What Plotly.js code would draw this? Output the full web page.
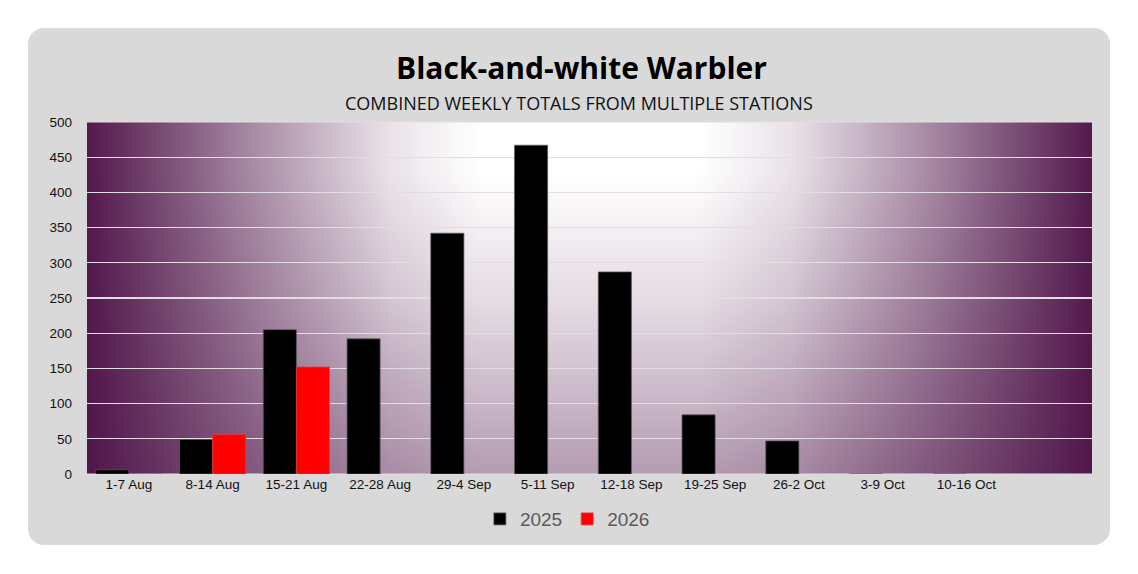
<!DOCTYPE html>
<html>
<head>
<meta charset="utf-8">
<script src="https://cdn.plot.ly/plotly-3.0.1.min.js"></script>
<style>
  html, body { margin: 0; padding: 0; background: #ffffff; }
  #card {
    position: absolute; left: 28px; top: 28px; width: 1082px; height: 517px;
    background: #d9d9d9; border-radius: 16px;
  }
  #chart { position: absolute; left: 0; top: 0; width: 1138px; height: 574px; }
</style>
</head>
<body>
<div id="card"></div>
<div id="chart"></div>
<script>
// weekly periods
const weeks = ["1-7 Aug", "8-14 Aug", "15-21 Aug", "22-28 Aug", "29-4 Sep", "5-11 Sep",
               "12-18 Sep", "19-25 Sep", "26-2 Oct", "3-9 Oct", "10-16 Oct"];
const totals2025 = [6, 49, 205, 192, 342, 467, 287, 84, 47, 0, 0];
const totals2026 = [0, 56, 152, null, null, null, null, null, null, null, null];

// piecewise-linear lookup used by the background shading
function ramp(pts, v) {
    if (v <= pts[0][0]) return pts[0][1];
    for (let i = 1; i < pts.length; i++) {
        if (v <= pts[i][0]) {
            let f = (v - pts[i - 1][0]) / (pts[i][0] - pts[i - 1][0]);
            return pts[i - 1][1] + f * (pts[i][1] - pts[i - 1][1]);
        }
    }
    return pts[pts.length - 1][1];
}

// purple glow behind the bars, white at top centre, dark at the sides
function plotBackground() {
    let w = 1005, h = 352;
    let c = document.createElement("canvas");
    c.width = w; c.height = h;
    let ctx = c.getContext("2d");
    let img = ctx.createImageData(w, h);
    let dark = [77, 18, 71];
    let side = [[0, 0], [110, 0], [200, 0.12], [340, 0.5], [430, 0.76], [503, 0.97]];
    let down = [[0, 0], [50, 0], [180, 0.15], [352, 0.42]];
    for (let y = 0; y < h; y++) {
        let ty = ramp(down, y);
        for (let x = 0; x < w; x++) {
            let tx = ramp(side, Math.abs(x - w / 2));
            let t = 1 - (1 - tx) * (1 - ty);
            let i = (y * w + x) * 4;
            img.data[i] = 255 + (dark[0] - 255) * t;
            img.data[i + 1] = 255 + (dark[1] - 255) * t;
            img.data[i + 2] = 255 + (dark[2] - 255) * t;
            img.data[i + 3] = 255;
        }
    }
    ctx.putImageData(img, 0, 0);
    return c.toDataURL("image/png");
}

var data = [
    {
        x: weeks,
        y: totals2025,
        name: "2025",
        type: "bar",
        marker: {color: "#000000", line: {color: "#595959", width: 0.75}}
    },
    {
        x: weeks,
        y: totals2026,
        name: "2026",
        type: "bar",
        marker: {color: "#ff0000", line: {color: "#e04040", width: 0.75}}
    }
];

var layout = {
    width: 1138,
    height: 574,
    margin: {l: 87, r: 46, t: 122, b: 100},
    paper_bgcolor: "rgba(0,0,0,0)",
    plot_bgcolor: "rgba(0,0,0,0)",
    font: {family: "Liberation Sans, Arial, sans-serif", color: "#111111"},
    barmode: "group",
    bargap: 0.21,
    bargroupgap: 0,
    title: {
        text: "<b>Black-and-white Warbler</b>",
        font: {family: "Open Sans, sans-serif", size: 30, color: "#000000"},
        x: 0.511, xanchor: "center",
        y: 1 - 68 / 574, yref: "container", yanchor: "middle"
    },
    annotations: [{
        text: "COMBINED WEEKLY TOTALS FROM MULTIPLE STATIONS",
        xref: "paper", yref: "paper", x: 0.49, y: 1.054,
        xanchor: "center", yanchor: "middle", showarrow: false,
        font: {family: "Open Sans, sans-serif", size: 18, color: "#111111"}
    }],
    xaxis: {
        type: "category",
        range: [-0.5, 11.5],
        showgrid: false,
        showline: false,
        zeroline: false,
        ticks: "",
        tickfont: {size: 13.5, color: "#111111"},
        fixedrange: true
    },
    yaxis: {
        range: [0, 500],
        dtick: 50,
        showgrid: true,
        gridcolor: "#e3dde3",
        gridwidth: 1.2,
        zeroline: false,
        showline: false,
        ticks: "",
        ticklabelstandoff: 14,
        tickfont: {size: 13.5, color: "#111111"},
        fixedrange: true
    },
    showlegend: true,
    legend: {
        orientation: "h",
        x: 0.478, xanchor: "center",
        y: -0.128, yanchor: "middle",
        font: {size: 19, color: "#595959"},
        bgcolor: "rgba(0,0,0,0)",
        itemclick: false
    },
    images: [{
        source: plotBackground(),
        xref: "paper", yref: "paper",
        x: 0, y: 1, sizex: 1, sizey: 1,
        xanchor: "left", yanchor: "top",
        sizing: "stretch", layer: "below"
    }],
    shapes: [{
        type: "line", xref: "paper", yref: "paper",
        x0: 0, x1: 1, y0: 1, y1: 1,
        line: {color: "#e3dde3", width: 1.2}
    }, {
        type: "line", xref: "paper", yref: "paper",
        x0: 0, x1: 1, y0: 0, y1: 0,
        line: {color: "#e3dde3", width: 1.2}, layer: "below"
    }]
};

Plotly.newPlot("chart", data, layout, {displayModeBar: false, staticPlot: true});
</script>
</body>
</html>
